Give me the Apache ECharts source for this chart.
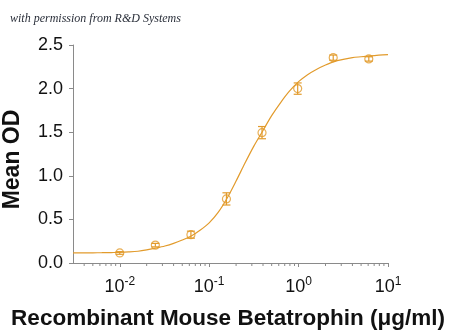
<!DOCTYPE html>
<html>
<head>
<meta charset="utf-8">
<style>
  html, body { margin: 0; padding: 0; background: #fff; }
  #chart { width: 450px; height: 335px; }
</style>
<script src="https://cdn.jsdelivr.net/npm/echarts@6/dist/echarts.min.js"></script>
</head>
<body>
<div id="chart"></div>
<script>
// Dose-response: Mean OD vs. Recombinant Mouse Betatrophin concentration (µg/ml)
const concentrations = [0.01, 0.025, 0.0625, 0.156, 0.39, 0.977, 2.44, 6.1];
const meanOD        = [0.115, 0.205, 0.325, 0.735, 1.495, 2.00, 2.355, 2.34];
const errorOD       = [0.015, 0.02, 0.04, 0.07, 0.07, 0.065, 0.03, 0.025];

// Fitted curve, sampled along its length
const fitConc = [0.003, 0.004, 0.005, 0.0063, 0.008, 0.01, 0.0126, 0.016, 0.02, 0.025,
                 0.032, 0.04, 0.05, 0.063, 0.079, 0.1, 0.126, 0.158, 0.2, 0.25,
                 0.316, 0.4, 0.5, 0.63, 0.79, 1.0, 1.26, 1.58, 2.0, 2.5,
                 3.16, 4, 5, 6.3, 7.9, 10];
const fitOD   = [0.115, 0.116, 0.117, 0.118, 0.12, 0.122, 0.127, 0.135, 0.15, 0.17,
                 0.195, 0.225, 0.263, 0.31, 0.375, 0.46, 0.58, 0.74, 0.94, 1.14,
                 1.34, 1.52, 1.69, 1.84, 1.97, 2.08, 2.16, 2.22, 2.27, 2.31,
                 2.335, 2.355, 2.365, 2.375, 2.383, 2.39];

// Axis ticks
const xMajorExponents = [-2, -1, 0, 1];
const yTicks = [0, 0.5, 1.0, 1.5, 2.0, 2.5];

const X_MIN = 0.003, X_MAX = 10;
const COLOR = '#E29B2C';
const AXIS_COLOR = '#8a8a8a';

// Minor log ticks (2..9 within each decade)
const minorTicks = [];
for (let d = -3; d <= 0; d++) {
  for (let k = 2; k <= 9; k++) {
    const v = k * Math.pow(10, d);
    if (v > X_MIN && v < X_MAX) minorTicks.push([v, 0]);
  }
}

const chart = echarts.init(document.getElementById('chart'), null, { renderer: 'canvas' });

const option = {
  backgroundColor: '#fff',
  animation: false,
  title: {
    text: 'with permission from R&D Systems',
    left: 5, top: 8,
    textStyle: {
      fontFamily: 'Liberation Serif', fontStyle: 'italic', fontWeight: 'normal',
      fontSize: 12, color: '#2a2f3a'
    }
  },
  grid: { left: 73, right: 62, top: 45, bottom: 72, containLabel: false, outerBoundsMode: 'none' },
  xAxis: {
    type: 'log',
    logBase: 10,
    min: X_MIN,
    max: X_MAX,
    name: 'Recombinant Mouse Betatrophin (\u03bcg/ml)',
    nameLocation: 'middle',
    nameGap: 44,
    nameTextStyle: {
      fontFamily: 'Liberation Sans', fontWeight: 'bold', fontSize: 22.5, color: '#111',
      verticalAlign: 'top', padding: [0, 5, 0, 0]
    },
    axisLine: { show: true, lineStyle: { color: AXIS_COLOR, width: 1 } },
    axisTick: { show: true, length: 4, lineStyle: { color: AXIS_COLOR } },
    splitLine: { show: false },
    axisLabel: {
      margin: 13,
      showMinLabel: false,
      formatter: function (v) {
        const e = Math.round(Math.log10(v));
        if (Math.abs(Math.log10(v) - e) > 1e-6 || xMajorExponents.indexOf(e) < 0) return '';
        return '{b|10}{s|' + e + '}';
      },
      rich: {
        b: { fontFamily: 'Liberation Sans', fontSize: 18, color: '#111', lineHeight: 22 },
        s: { fontFamily: 'Liberation Sans', fontSize: 12, color: '#111', verticalAlign: 'top', lineHeight: 12 }
      }
    }
  },
  yAxis: {
    type: 'value',
    min: yTicks[0],
    max: yTicks[yTicks.length - 1],
    interval: 0.5,
    name: 'Mean OD',
    nameLocation: 'middle',
    nameGap: 49,
    nameRotate: 90,
    nameTextStyle: {
      fontFamily: 'Liberation Sans', fontWeight: 'bold', fontSize: 23, color: '#111',
      padding: [0, 11, 0, 0]
    },
    axisLine: { show: true, lineStyle: { color: AXIS_COLOR, width: 1 } },
    axisTick: { show: true, length: 4, lineStyle: { color: AXIS_COLOR } },
    splitLine: { show: false },
    axisLabel: {
      margin: 10,
      fontFamily: 'Liberation Sans', fontSize: 18, color: '#111',
      formatter: function (v) { return v.toFixed(1); }
    }
  },
  series: [
    {
      name: 'minor ticks',
      type: 'custom',
      silent: true,
      clip: false,
      data: minorTicks,
      renderItem: function (params, api) {
        const p = api.coord([api.value(0), 0]);
        return {
          type: 'line',
          shape: { x1: p[0], y1: p[1], x2: p[0], y2: p[1] + 3 },
          style: { stroke: AXIS_COLOR, lineWidth: 1 }
        };
      }
    },
    {
      name: 'fit',
      type: 'line',
      data: fitConc.map((c, i) => [c, fitOD[i]]),
      smooth: 0.3,
      showSymbol: false,
      symbol: 'none',
      lineStyle: { color: COLOR, width: 1.2 },
      z: 2
    },
    {
      name: 'Mean OD',
      type: 'scatter',
      data: concentrations.map((c, i) => [c, meanOD[i]]),
      symbol: 'circle',
      symbolSize: 8,
      itemStyle: { color: 'rgba(255,255,255,0)', borderColor: COLOR, borderWidth: 1.2 },
      z: 3
    },
    {
      name: 'error',
      type: 'custom',
      data: concentrations.map((c, i) => [c, meanOD[i] - errorOD[i], meanOD[i] + errorOD[i]]),
      renderItem: function (params, api) {
        const x = api.value(0);
        const lo = api.coord([x, api.value(1)]);
        const hi = api.coord([x, api.value(2)]);
        const hw = 4;
        const st = { stroke: COLOR, lineWidth: 1.2 };
        return {
          type: 'group',
          children: [
            { type: 'line', shape: { x1: lo[0], y1: lo[1], x2: hi[0], y2: hi[1] }, style: st },
            { type: 'line', shape: { x1: lo[0] - hw, y1: lo[1], x2: lo[0] + hw, y2: lo[1] }, style: st },
            { type: 'line', shape: { x1: hi[0] - hw, y1: hi[1], x2: hi[0] + hw, y2: hi[1] }, style: st }
          ]
        };
      },
      z: 4
    }
  ]
};

chart.setOption(option);
</script>
</body>
</html>
